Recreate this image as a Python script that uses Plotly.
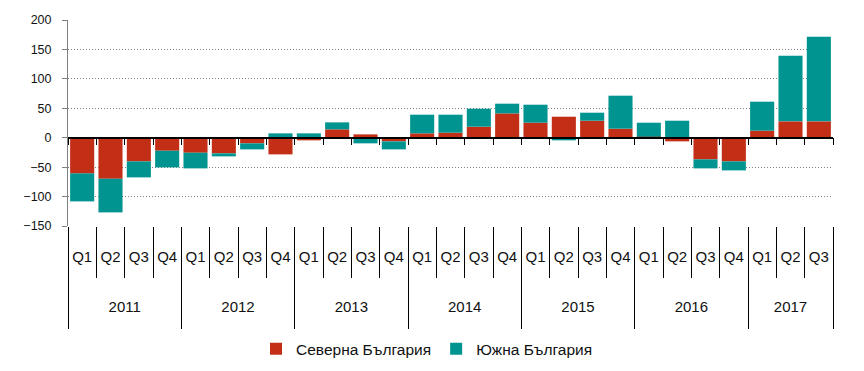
import plotly.graph_objects as go

years = ["2011"]*4 + ["2012"]*4 + ["2013"]*4 + ["2014"]*4 + ["2015"]*4 + ["2016"]*4 + ["2017"]*3
quarters = ["Q1", "Q2", "Q3", "Q4"]*6 + ["Q1", "Q2", "Q3"]

north = [-60.6, -69.7, -40.2, -22.1,
         -25.5, -26.6, -9.6, -28.3,
         -4.5, 14.2, 5.7, -6.2,
         7.4, 8.5, 18.7, 41.3,
         25.5, 35.7, 28.9, 15.3,
         1.7, -6.2, -36.8, -40.2,
         11.9, 27.8, 27.8]
south = [-47.6, -57.2, -27.2, -28.3,
         -26.6, -5.1, -10.2, 7.4,
         7.4, 11.9, -9.6, -13.6,
         31.7, 30.6, 30.6, 16.5,
         30.6, -4.5, 13.6, 56.1,
         23.8, 28.9, -15.3, -15.3,
         49.3, 111.5, 143.8]

y_ticks = [-150, -100, -50, 0, 50, 100, 150, 200]
y_min, y_max = -150, 200

RED = "#C32F16"
TEAL = "#009490"
FONT = "Liberation Sans"

n = len(quarters)
cats = [f"{y} {q}" for y, q in zip(years, quarters)]

# year group boundaries and centres (in category index units)
year_names = []
year_idx = {}
for i, y in enumerate(years):
    if y not in year_idx:
        year_names.append(y)
        year_idx[y] = []
    year_idx[y].append(i)
year_bounds = [year_idx[y][0] - 0.5 for y in year_names] + [n - 0.5]
year_centres = [sum(year_idx[y]) / len(year_idx[y]) for y in year_names]

fig = go.Figure()
fig.add_trace(go.Bar(x=cats, y=north, name="Северна България",
                     marker=dict(color=RED, line=dict(width=0))))
fig.add_trace(go.Bar(x=cats, y=south, name="Южна България",
                     marker=dict(color=TEAL, line=dict(width=0))))

# helper axes (zero-line ticks, year dividers, year labels)
for ax in ["x2", "x3", "x4"]:
    fig.add_trace(go.Scatter(x=[], y=[], xaxis=ax, yaxis="y", showlegend=False, hoverinfo="skip"))

zero_frac = (0 - y_min) / (y_max - y_min)
xr = [-0.5, n - 0.5]

fig.update_layout(
    width=856, height=363,
    margin=dict(l=60, r=31, t=12, b=145, autoexpand=False),
    paper_bgcolor="white", plot_bgcolor="white",
    barmode="relative", bargap=0.15,
    font=dict(family=FONT, size=13, color="#111111"),
    showlegend=True,
    legend=dict(orientation="h", xref="container", yref="container",
                x=0.4895, xanchor="center", y=0.06, yanchor="middle",
                font=dict(family=FONT, size=15.5), traceorder="normal", itemwidth=30),
    xaxis=dict(type="category", range=xr, tickvals=cats, ticktext=quarters,
               showgrid=False, zeroline=False, automargin=False, tickangle=0,
               showline=False, ticks="outside", tickson="boundaries", ticklen=51,
               tickcolor="black", tickwidth=1, ticklabelstandoff=20,
               tickfont=dict(family=FONT, size=15)),
    xaxis2=dict(overlaying="x", anchor="free", position=zero_frac, range=xr,
                tick0=0.5, dtick=1, ticks="outside", ticklen=7, tickcolor="black",
                showticklabels=False, showgrid=False, zeroline=False, automargin=False,
                showline=True, linecolor="black", linewidth=1.5),
    xaxis3=dict(overlaying="x", anchor="free", position=0, range=xr,
                tickvals=year_bounds, ticks="outside", ticklen=102, tickcolor="black",
                tickwidth=1, showticklabels=False, showgrid=False, zeroline=False,
                automargin=False, showline=False),
    xaxis4=dict(overlaying="x", anchor="free", position=0, range=xr,
                tickvals=year_centres, ticktext=year_names, ticks="", tickangle=0,
                showgrid=False, zeroline=False, automargin=False, showline=False,
                ticklabelstandoff=70, tickfont=dict(family=FONT, size=15)),
    yaxis=dict(range=[y_min, y_max], tickvals=y_ticks, showgrid=True,
               gridcolor="#808080", griddash="1px,2px", gridwidth=1,
               zeroline=False, showline=True, linecolor="#808080", linewidth=1,
               ticks="outside", ticklen=5, tickcolor="#808080", automargin=False,
               ticklabelstandoff=8,
               tickfont=dict(family=FONT, size=12.5)),
)

fig.write_html("out.html")
